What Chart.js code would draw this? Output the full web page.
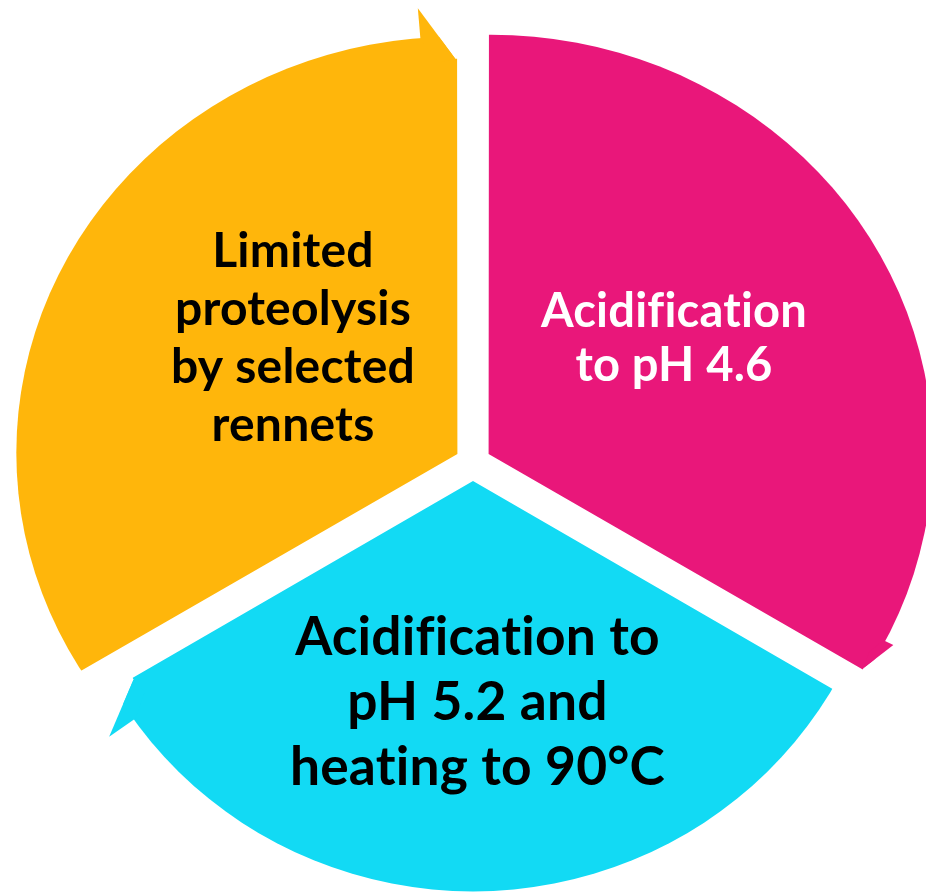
<!DOCTYPE html>
<html>
<head>
<meta charset="utf-8">
<script src="https://cdn.jsdelivr.net/npm/chart.js@4/dist/chart.umd.min.js"></script>
<style>
  html, body { margin: 0; padding: 0; background: #ffffff; }
  #wrap { width: 926px; height: 895px; }
</style>
</head>
<body>
<div id="wrap"><canvas id="c" width="926" height="895"></canvas></div>
<script>
// ---- data (clockwise from 12 o'clock) ----
const categories = [
  'Acidification to pH 4.6',
  'Acidification to pH 5.2 and heating to 90°C',
  'Limited proteolysis by selected rennets'
];
const stepShares = [1, 1, 1];
const labelLines = [
  ['Acidification', 'to pH 4.6'],
  ['Acidification to', 'pH 5.2 and', 'heating to 90°C'],
  ['Limited', 'proteolysis', 'by selected', 'rennets']
];
const sliceColors = ['#E9177A', '#12DAF4', '#FFB60B'];
const textColors = ['#FFFFFF', '#000000', '#000000'];

// ---- layout / style ----
const RADIUS = 470;              // drawn radius, trimmed by each slice's outline
const OFFSET = 72;               // slice explode -> gap width
// per-slice outline half-axes and arrow-head shape
const OUTLINE = [
  { a: 442, b: 418, spread: 34, out: 9, inset: 5 },
  { a: 416, b: 408, spread: 35, out: 30, inset: 22 },
  { a: 439, b: 416, spread: 35, out: 30, inset: 22 }
];
// label placement relative to chart centre
const LABEL_LAYOUT = [
  { dx: 201, dy: -136, ref: 0, width: 266, lh: 54 },
  { dx: 4.5, dy: 192, ref: 0, width: 365, lh: 65 },
  { dx: -180, dy: -196, ref: 1, width: 236, lh: 58 }
];
const FONT_FAMILY = 'Lato, "Open Sans", sans-serif';

function poly(ctx, pts) {
  ctx.beginPath();
  ctx.moveTo(pts[0][0], pts[0][1]);
  for (let i = 1; i < pts.length; i++) ctx.lineTo(pts[i][0], pts[i][1]);
  ctx.closePath();
  ctx.fill();
}

const cyclePlugin = {
  id: 'cycle',
  beforeDatasetsDraw(chart) {
    const ctx = chart.ctx;
    chart.getDatasetMeta(0).data.forEach((arc, i) => {
      const p = arc.getProps(['x', 'y', 'startAngle', 'endAngle'], true);
      const circ = p.endAngle - p.startAngle;
      const fix = 1 - Math.sin(Math.min(Math.PI, circ));
      const t = (arc.options.offset / 4) * (1 + fix);
      const mid = (p.startAngle + p.endAngle) / 2;
      const cx = p.x + Math.cos(mid) * t, cy = p.y + Math.sin(mid) * t;
      const o = OUTLINE[i];
      // slice body: library arc, trimmed to its outline
      ctx.save();
      ctx.beginPath();
      ctx.ellipse(cx, cy, o.a, o.b, 0, 0, Math.PI * 2);
      ctx.clip();
      arc.draw(ctx);
      ctx.restore();
      // arrow head at the clockwise end
      const rAt = (ang) => 1 / Math.sqrt(Math.pow(Math.cos(ang) / o.a, 2) + Math.pow(Math.sin(ang) / o.b, 2));
      const P = (r, ang) => [cx + r * Math.cos(ang), cy + r * Math.sin(ang)];
      const e = p.endAngle;
      const d = o.spread / rAt(e);
      const rb = rAt(e - d), re = rAt(e);
      const base = P(rb - 2, e - d);
      const outer = P(rb + o.out, e - d);
      const tip = P(re - o.inset, e);
      ctx.fillStyle = '#ffffff';
      poly(ctx, [tip, P(re - o.inset, e + 0.02), P(re + 60, e + 0.02), P(re + 60, e - d * 0.3), outer]);
      ctx.fillStyle = sliceColors[i];
      poly(ctx, [base, outer, tip, P(re - o.inset - 3, e - d * 0.5)]);
    });
    return false;
  },
  afterDraw(chart) {
    const ctx = chart.ctx;
    const a = chart.getDatasetMeta(0).data[0];
    ctx.save();
    ctx.textAlign = 'center';
    ctx.textBaseline = 'alphabetic';
    if ('letterSpacing' in ctx) ctx.letterSpacing = '0.2px';
    labelLines.forEach((lines, i) => {
      const L = LABEL_LAYOUT[i];
      ctx.font = 'bold 50px ' + FONT_FAMILY;
      const w = ctx.measureText(lines[L.ref]).width;
      const size = 50 * L.width / w;
      ctx.font = 'bold ' + size.toFixed(2) + 'px ' + FONT_FAMILY;
      ctx.fillStyle = textColors[i];
      lines.forEach((ln, k) => {
        ctx.fillText(ln, a.x + L.dx, a.y + L.dy + k * L.lh);
      });
    });
    ctx.restore();
  }
};

new Chart(document.getElementById('c'), {
  type: 'pie',
  data: {
    labels: categories,
    datasets: [{
      data: stepShares,
      backgroundColor: sliceColors,
      borderWidth: 0,
      offset: OFFSET,
      hoverOffset: OFFSET,
      clip: false
    }]
  },
  options: {
    responsive: false,
    devicePixelRatio: 1,
    animation: false,
    events: [],
    radius: RADIUS,
    layout: { padding: { left: 20, right: 0, top: 31, bottom: 0 } },
    plugins: {
      legend: { display: false },
      tooltip: { enabled: false }
    }
  },
  plugins: [cyclePlugin]
});
</script>
</body>
</html>
